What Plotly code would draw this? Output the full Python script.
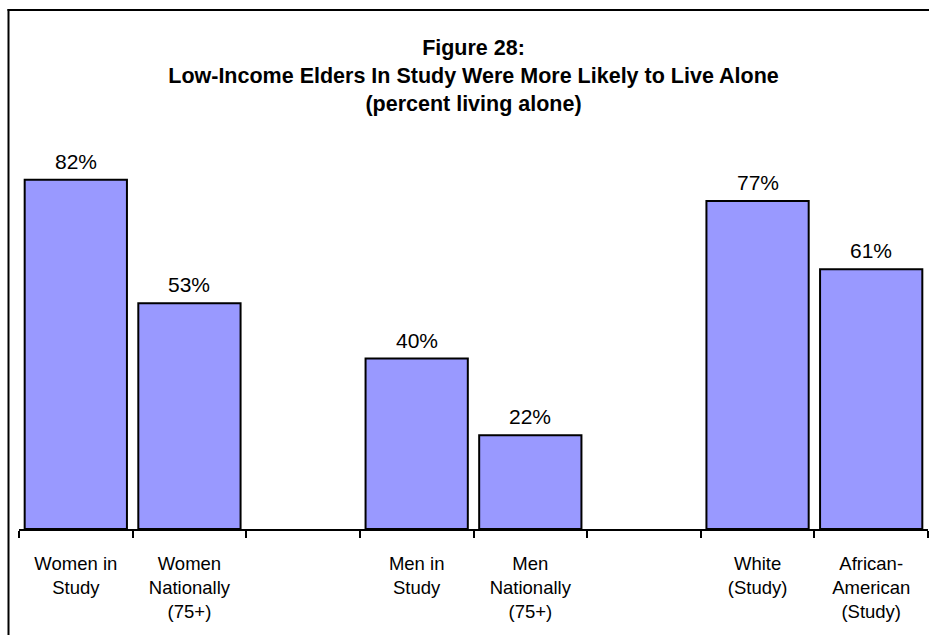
import plotly.graph_objects as go

# Categories (blank slots keep the gaps between the three groups)
categories = [
    "Women in<br>Study",
    "Women<br>Nationally<br>(75+)",
    " ",
    "Men in<br>Study",
    "Men<br>Nationally<br>(75+)",
    "  ",
    "White<br>(Study)",
    "African-<br>American<br>(Study)",
]
percent_alone = [82, 53, None, 40, 22, None, 77, 61]

W, H = 929, 635
M_L, M_R, M_T, M_B = 19, 1, 103, 106
plot_w = W - M_L - M_R
plot_h = H - M_T - M_B


def px_x(px):
    return (px - M_L) / plot_w


def px_y(py):
    return (H - M_B - py) / plot_h


FONT = "Liberation Sans, Arial, sans-serif"

fig = go.Figure(
    go.Bar(
        x=categories,
        y=percent_alone,
        marker=dict(color="#9999FF", line=dict(color="black", width=2)),
        cliponaxis=False,
        hoverinfo="skip",
    )
)

# value labels above each bar
for cat, val in zip(categories, percent_alone):
    if val is None:
        continue
    fig.add_annotation(
        x=cat, y=val, xref="x", yref="y",
        text=f"{val}%",
        showarrow=False,
        yanchor="bottom",
        yshift=5,
        font=dict(family=FONT, size=21, color="black"),
    )

fig.update_layout(
    width=W,
    height=H,
    margin=dict(l=M_L, r=M_R, t=M_T, b=M_B),
    paper_bgcolor="white",
    plot_bgcolor="white",
    bargap=0.1,
    showlegend=False,
    title=dict(
        text="Figure 28:<br>Low-Income Elders In Study Were More Likely to Live Alone"
        "<br>(percent living alone)",
        font=dict(family=FONT, size=21.5, color="black", weight="bold"),
        x=0.5,
        xanchor="center",
        xref="paper",
        y=1 - 55 / H,
        yanchor="top",
        yref="container",
    ),
    xaxis=dict(
        type="category",
        showline=True,
        linecolor="black",
        linewidth=2,
        ticks="outside",
        tickson="boundaries",
        ticklen=7,
        tickwidth=2,
        tickcolor="black",
        ticklabelstandoff=17,
        tickfont=dict(family=FONT, size=18.5, color="black"),
        showgrid=False,
        zeroline=False,
    ),
    yaxis=dict(
        range=[0, 100],
        visible=False,
        showgrid=False,
        zeroline=False,
    ),
    shapes=[
        # frame around the chart (left and top edges)
        dict(type="line", xref="paper", yref="paper",
             x0=px_x(8.5), x1=px_x(8.5), y0=px_y(9), y1=px_y(H + 10),
             line=dict(color="black", width=2)),
        dict(type="line", xref="paper", yref="paper",
             x0=px_x(7.5), x1=px_x(W + 10), y0=px_y(10), y1=px_y(10),
             line=dict(color="black", width=2)),
    ],
)

fig.write_html("out.html")
